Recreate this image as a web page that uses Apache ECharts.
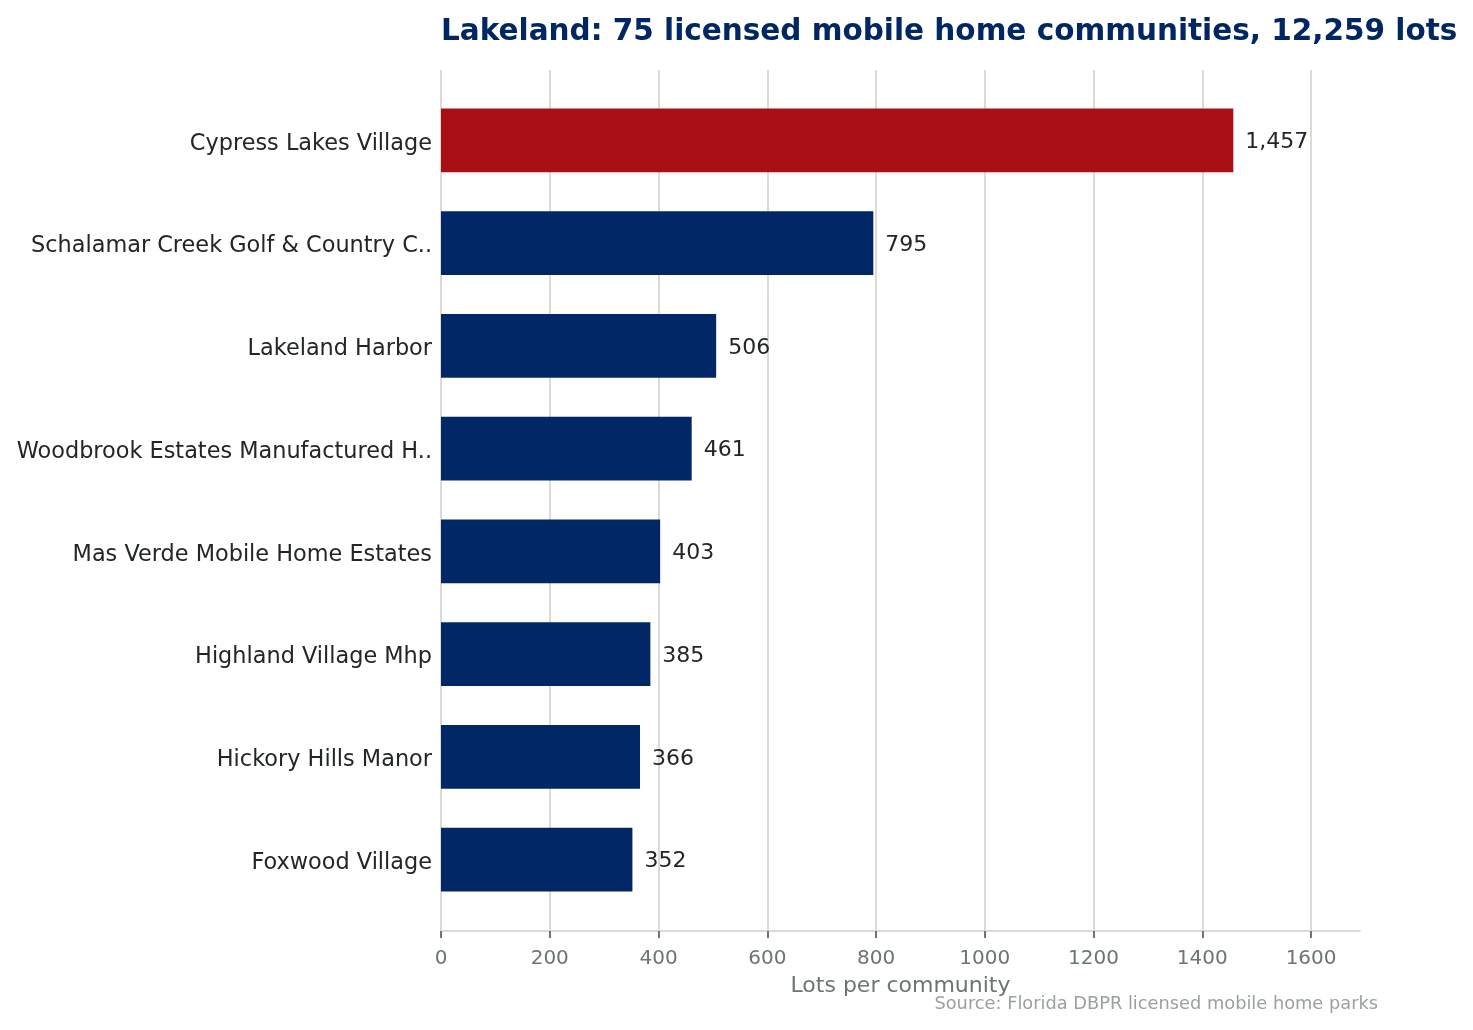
<!DOCTYPE html>
<html>
<head>
<meta charset="utf-8">
<title>Lakeland mobile home communities</title>
<script src="https://cdn.jsdelivr.net/npm/echarts@6/dist/echarts.min.js"></script>
<style>
  html, body { margin: 0; padding: 0; background: #fff; }
  #chart { width: 1473px; height: 1030px; }
</style>
</head>
<body>
<div id="chart"></div>
<script>
// communities, largest first
var communities = [
    'Cypress Lakes Village',
    'Schalamar Creek Golf & Country C..',
    'Lakeland Harbor',
    'Woodbrook Estates Manufactured H..',
    'Mas Verde Mobile Home Estates',
    'Highland Village Mhp',
    'Hickory Hills Manor',
    'Foxwood Village'
];
var lots = [1457, 795, 506, 461, 403, 385, 366, 352];
var xTicks = [0, 200, 400, 600, 800, 1000, 1200, 1400, 1600];
var xMax = 1690;

var font = 'DejaVu Sans';
var navy = '#012766';
var red = '#a81015';
var gridColor = '#dedad3';
var tickGray = '#6b7575';

echarts.init(document.getElementById('chart')).setOption({
    animation: false,
    title: {
        text: 'Lakeland: 75 licensed mobile home communities, 12,259 lots',
        left: 441,
        top: 17,
        padding: 0,
        textStyle: { fontFamily: font, fontSize: 29.5, fontWeight: 'bold', color: '#002664' }
    },
    graphic: [{
        type: 'text',
        right: 95,
        top: 995,
        style: { text: 'Source: Florida DBPR licensed mobile home parks', fontFamily: font, fontSize: 17.8, fill: '#9aa0a0' }
    }],
    grid: [
        { left: 441, right: 113, top: 89, bottom: 119 },   // bars
        { left: 441, right: 113 + (xMax - xTicks[xTicks.length - 1]) * 869.7 / 1600, top: 70, bottom: 99 }  // gridlines + ticks
    ],
    xAxis: [
        {
            gridIndex: 0,
            type: 'value',
            min: 0,
            max: xMax,
            offset: 20,
            axisLine: { show: true, lineStyle: { color: gridColor, width: 2 } },
            axisTick: { show: false },
            axisLabel: { show: false },
            splitLine: { show: false },
            name: 'Lots per community',
            nameLocation: 'middle',
            nameGap: 44,
            nameTextStyle: { fontFamily: font, fontSize: 22, color: tickGray }
        },
        {
            gridIndex: 1,
            type: 'value',
            min: xTicks[0],
            max: xTicks[xTicks.length - 1],
            interval: 200,
            axisLine: { show: false },
            axisTick: { show: true, length: 7, lineStyle: { color: tickGray, width: 2 } },
            axisLabel: {
                fontFamily: font, fontSize: 20, color: tickGray, margin: 18,
                formatter: function (v) { return String(v); }
            },
            splitLine: { show: true, lineStyle: { color: gridColor, width: 2 } }
        }
    ],
    yAxis: [
        {
            gridIndex: 0,
            type: 'category',
            inverse: true,
            data: communities,
            axisLine: { show: false },
            axisTick: { show: false },
            axisLabel: {
                fontFamily: font, fontSize: 22.4, color: '#222626', margin: 9,
                verticalAlign: 'top', lineHeight: 7
            }
        },
        { gridIndex: 1, type: 'value', show: false }
    ],
    series: [{
        type: 'bar',
        xAxisIndex: 0,
        yAxisIndex: 0,
        data: lots,
        barWidth: '62%',
        itemStyle: {
            color: function (p) { return p.dataIndex === 0 ? red : navy; }
        },
        label: {
            show: true,
            position: 'right',
            distance: 12,
            offset: [0, 2],
            fontFamily: font,
            fontSize: 22,
            color: '#222626',
            formatter: function (p) { return p.value.toLocaleString('en-US'); }
        }
    }]
});
</script>
</body>
</html>
